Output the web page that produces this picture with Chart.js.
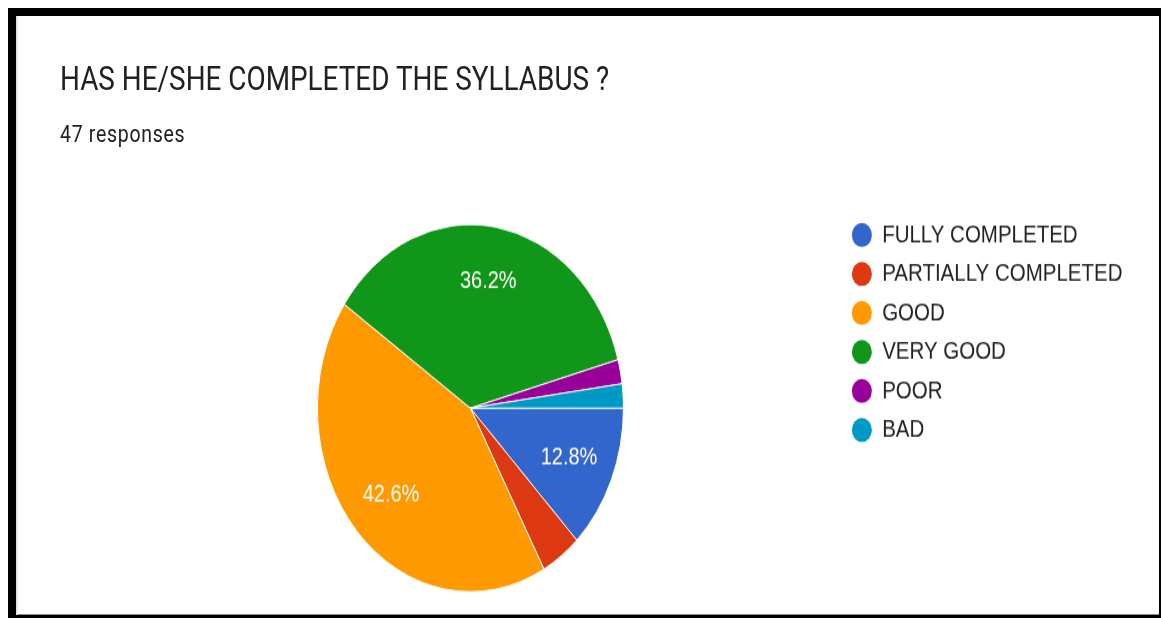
<!DOCTYPE html>
<html lang="en">
<head>
<meta charset="utf-8">
<title>HAS HE/SHE COMPLETED THE SYLLABUS ?</title>
<script src="https://cdn.jsdelivr.net/npm/chart.js@4/dist/chart.umd.min.js"></script>
<style>
  html, body { margin: 0; padding: 0; background: #fff; }
  body { width: 1161px; height: 618px; position: relative; overflow: hidden; }

  /* cadre noir autour de la carte */
  #cadre {
    position: absolute; left: 8px; top: 8px; right: 0; bottom: 0;
    box-sizing: border-box;
    border-style: solid; border-color: #000;
    border-width: 8px 2px 3px 8px;
    box-shadow: inset 2px 0 0 #e4e4e4, inset 0 -1px 0 #8a8a8a;
    z-index: 2;
  }

  /* la carte entière est étirée en hauteur */
  #etire {
    position: absolute; left: 0; top: 0;
    width: 1161px; height: 515px;
    transform: scaleY(1.2); transform-origin: 0 0;
  }
  .titre {
    position: absolute; left: 60px; top: 51.6px;
    font: 400 27.9px/27.9px Roboto, sans-serif;
    color: #202124; white-space: nowrap;
  }
  .sous-titre {
    position: absolute; left: 60px; top: 102px;
    font: 400 19.5px/19.5px Roboto, sans-serif;
    letter-spacing: 0.7px;
    color: #202124; white-space: nowrap;
  }
  #zone { position: absolute; left: 0; top: 150px; width: 1161px; height: 365px; }
</style>
</head>
<body>
<div id="cadre"></div>
<div id="etire">
  <div class="titre">HAS HE/SHE COMPLETED THE SYLLABUS ?</div>
  <div class="sous-titre">47 responses</div>
  <div id="zone"><canvas id="camembert"></canvas></div>
</div>

<script>
// Réponses au questionnaire
const categories = ['FULLY COMPLETED', 'PARTIALLY COMPLETED', 'GOOD', 'VERY GOOD', 'POOR', 'BAD'];
const responses = [6, 2, 20, 17, 1, 1];
const totalResponses = responses.reduce((a, b) => a + b, 0);

/**
 * Affiche le pourcentage au milieu des parts assez grandes
 */
const pourcentages = {
  id: 'pourcentages',
  afterDatasetsDraw(chart) {
    const ctx = chart.ctx;
    const meta = chart.getDatasetMeta(0);
    ctx.save();
    ctx.font = '20px "Liberation Sans", Arial, sans-serif';
    ctx.fillStyle = '#ffffff';
    ctx.textAlign = 'center';
    ctx.textBaseline = 'middle';
    meta.data.forEach((arc, i) => {
      const part = responses[i] / totalResponses;
      if (part < 0.1) return;
      const { x, y, startAngle, endAngle, outerRadius } =
        arc.getProps(['x', 'y', 'startAngle', 'endAngle', 'outerRadius'], true);
      const milieu = (startAngle + endAngle) / 2;
      const r = outerRadius * 0.7;
      ctx.fillText((part * 100).toFixed(1) + '%', x + Math.cos(milieu) * r, y + Math.sin(milieu) * r);
    });
    ctx.restore();
  }
};

// Légende sans contour blanc autour des pastilles
const baseLabels = Chart.overrides.doughnut.plugins.legend.labels.generateLabels;

new Chart(document.getElementById('camembert'), {
  type: 'pie',
  data: {
    labels: categories,
    datasets: [{
      data: responses,
      backgroundColor: ['#3366cc', '#dc3912', '#ff9900', '#109618', '#990099', '#0099c6'],
      borderColor: '#ffffff',
      borderWidth: 1,
      rotation: 90,
      radius: 153
    }]
  },
  options: {
    responsive: true,
    maintainAspectRatio: false,
    animation: false,
    layout: {
      padding: { left: 101, right: 28.5, top: 23.6, bottom: 8.3 }
    },
    plugins: {
      legend: {
        position: 'right',
        align: 'start',
        labels: {
          usePointStyle: true,
          pointStyle: 'circle',
          pointStyleWidth: 20,
          boxHeight: 14.14,
          padding: 12,
          color: '#222222',
          font: { family: '"Liberation Sans", Arial, sans-serif', size: 20.5 },
          generateLabels(chart) {
            const items = baseLabels(chart);
            items.forEach(item => { item.lineWidth = 0; });
            return items;
          }
        }
      },
      tooltip: { enabled: false }
    }
  },
  plugins: [pourcentages]
});
</script>
</body>
</html>
